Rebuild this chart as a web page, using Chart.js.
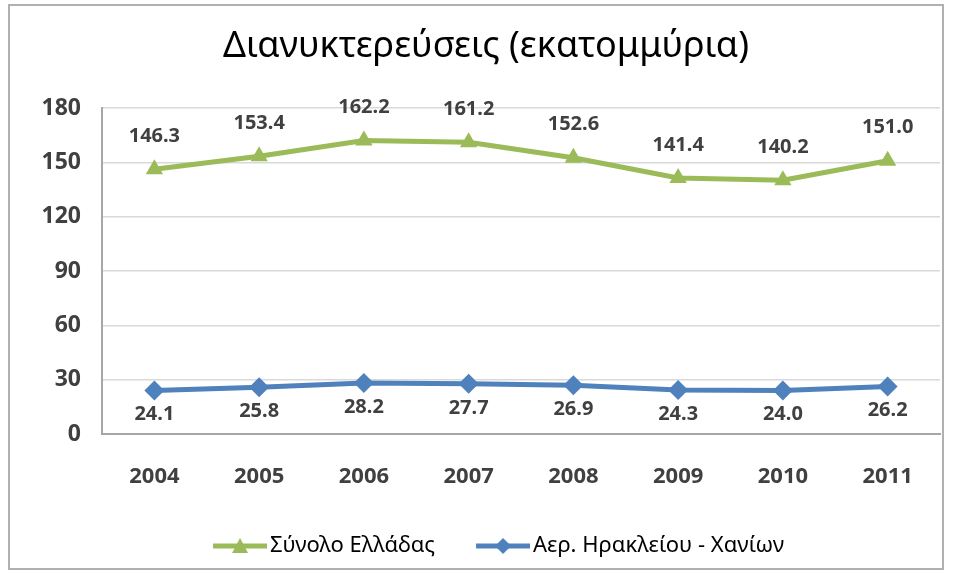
<!DOCTYPE html>
<html>
<head>
<meta charset="utf-8">
<script src="https://cdn.jsdelivr.net/npm/chart.js@4"></script>
<style>
  html, body { margin: 0; padding: 0; background: #fff; }
  #wrap { position: relative; width: 954px; height: 575px; }
  #frame { position: absolute; left: 8px; top: 4px; width: 936px; height: 566px; border: 2px solid #b0b0b0; box-sizing: border-box; pointer-events: none; }
  canvas { position: absolute; left: 0; top: 0; }
</style>
</head>
<body>
<div id="wrap">
  <canvas id="chart" width="954" height="575"></canvas>
  <div id="frame"></div>
</div>
<script>
const years = ['2004', '2005', '2006', '2007', '2008', '2009', '2010', '2011'];
const greeceTotal = [146.3, 153.4, 162.2, 161.2, 152.6, 141.4, 140.2, 151.0];
const heraklionChania = [24.1, 25.8, 28.2, 27.7, 26.9, 24.3, 24.0, 26.2];
const yTicks = [0, 30, 60, 90, 120, 150, 180];

const GREEN = '#9bbb59';
const BLUE = '#4f81bd';
const FONT = "'Noto Sans', 'DejaVu Sans', sans-serif";
const SWATCH_W = 71; // legend box width; line is drawn in its right part, close to the text

// legend swatch: line with marker in the middle, like Excel
function swatch(color, shape) {
  const c = document.createElement('canvas');
  c.width = SWATCH_W + 16; c.height = 22;
  const g = c.getContext('2d');
  const x0 = SWATCH_W - 38, x1 = SWATCH_W + 16;
  g.strokeStyle = color; g.fillStyle = color; g.lineWidth = 5;
  g.beginPath(); g.moveTo(x0, 11); g.lineTo(x1, 11); g.stroke();
  const cx = (x0 + x1) / 2;
  g.beginPath();
  if (shape === 'triangle') {
    g.moveTo(cx, 3); g.lineTo(cx + 8, 18); g.lineTo(cx - 8, 18);
  } else {
    g.moveTo(cx, 3); g.lineTo(cx + 8, 11); g.lineTo(cx, 19); g.lineTo(cx - 8, 11);
  }
  g.closePath(); g.fill();
  return c;
}

const valueLabels = {
  id: 'valueLabels',
  afterDatasetsDraw(chart) {
    const { ctx } = chart;
    ctx.save();
    ctx.font = `bold 20px ${FONT}`;
    ctx.fillStyle = '#404040';
    ctx.textAlign = 'center';
    ctx.textBaseline = 'middle';
    chart.data.datasets.forEach((ds, i) => {
      const meta = chart.getDatasetMeta(i);
      meta.data.forEach((pt, j) => {
        const dy = ds.labelPos === 'above' ? -33 : 24;
        ctx.fillText(ds.data[j].toFixed(1), pt.x, pt.y + dy);
      });
    });
    ctx.restore();
  }
};

new Chart(document.getElementById('chart'), {
  type: 'line',
  data: {
    labels: years,
    datasets: [
      {
        label: 'Σύνολο Ελλάδας',
        data: greeceTotal,
        borderColor: GREEN,
        backgroundColor: GREEN,
        borderWidth: 5,
        pointStyle: 'triangle',
        pointRadius: 10,
        pointBorderWidth: 0,
        tension: 0,
        labelPos: 'above',
        legendSwatch: swatch(GREEN, 'triangle'),
      },
      {
        label: 'Αερ. Ηρακλείου - Χανίων',
        data: heraklionChania,
        borderColor: BLUE,
        backgroundColor: BLUE,
        borderWidth: 5,
        pointStyle: 'rectRot',
        pointRadius: 10,
        pointBorderWidth: 0,
        tension: 0,
        labelPos: 'below',
        legendSwatch: swatch(BLUE, 'diamond'),
      },
    ],
  },
  options: {
    responsive: false,
    animation: false,
    layout: { padding: { left: 32, right: 14, top: 0, bottom: 8 } },
    plugins: {
      title: {
        display: true,
        text: 'Διανυκτερεύσεις (εκατομμύρια)',
        color: '#000',
        font: { family: FONT, size: 36, weight: 'normal' },
        padding: { top: 25, bottom: 40 },
      },
      legend: {
        position: 'bottom',
        labels: {
          usePointStyle: true,
          pointStyleWidth: SWATCH_W,
          padding: 16,
          color: '#000',
          font: { family: FONT, size: 22 },
          generateLabels: (chart) => chart.data.datasets.map((ds, i) => ({
            text: ds.label,
            pointStyle: ds.legendSwatch,
            fillStyle: ds.borderColor,
            strokeStyle: ds.borderColor,
            lineWidth: 0,
            hidden: false,
            datasetIndex: i,
          })),
        },
      },
      tooltip: { enabled: false },
    },
    scales: {
      x: {
        offset: true,
        grid: { display: false, drawTicks: false },
        border: { display: true, color: '#a6a6a6', width: 2 },
        ticks: { color: '#404040', font: { family: FONT, size: 22, weight: 'bold' }, padding: 30 },
        afterFit: (scale) => { scale.height = 85; },
      },
      y: {
        min: 0,
        max: 180,
        afterBuildTicks: (scale) => { scale.ticks = yTicks.map((v) => ({ value: v })); },
        grid: { color: '#d9d9d9', lineWidth: 1.5, drawTicks: false },
        border: { display: true, color: '#a6a6a6', width: 2 },
        ticks: { color: '#404040', font: { family: FONT, size: 23, weight: 'bold' }, padding: 21 },
        afterFit: (scale) => { scale.width = 70; },
      },
    },
  },
  plugins: [valueLabels],
});
</script>
</body>
</html>
